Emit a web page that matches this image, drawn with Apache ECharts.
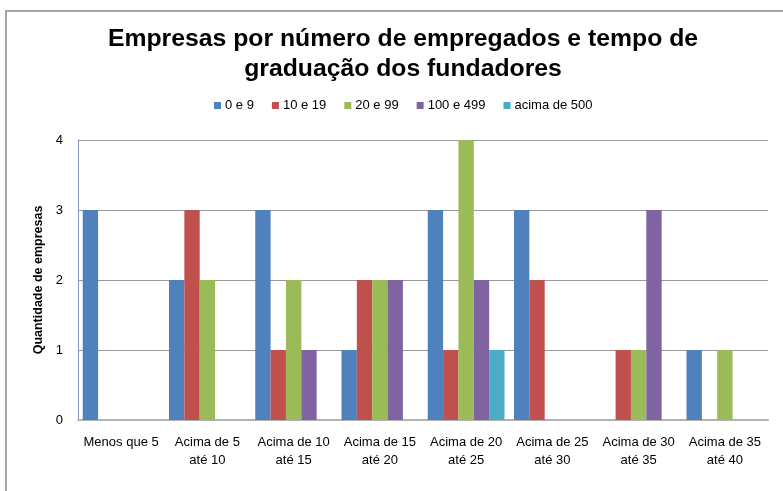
<!DOCTYPE html>
<html>
<head>
<meta charset="utf-8">
<script src="https://cdn.jsdelivr.net/npm/echarts@6/dist/echarts.min.js"></script>
<style>
  html, body { margin: 0; padding: 0; background: #fff; }
  #main { width: 783px; height: 491px; }
</style>
</head>
<body>
<div id="main"></div>
<script>
  let categories = ['Menos que 5', 'Acima de 5\naté 10', 'Acima de 10\naté 15', 'Acima de 15\naté 20',
    'Acima de 20\naté 25', 'Acima de 25\naté 30', 'Acima de 30\naté 35', 'Acima de 35\naté 40'];
  let seriesNames = ['0 e 9', '10 e 19', '20 e 99', '100 e 499', 'acima de 500'];
  let s0a9 = [3, 2, 3, 1, 3, 3, 0, 1];
  let s10a19 = [0, 3, 1, 2, 1, 2, 1, 0];
  let s20a99 = [0, 2, 2, 2, 4, 0, 1, 1];
  let s100a499 = [0, 0, 1, 2, 2, 0, 3, 0];
  let sAcima500 = [0, 0, 0, 0, 1, 0, 0, 0];
  let colors = ['#4F81BD', '#C0504D', '#9BBB59', '#8064A2', '#4BACC6'];

  let myChart = echarts.init(document.getElementById('main'));
  let allData = [s0a9, s10a19, s20a99, s100a499, sAcima500];

  let series = allData.map(function (d, i) {
    return {
      name: seriesNames[i],
      type: 'bar',
      data: d.map(function (v) { return v === 0 ? null : v; }),
      barGap: '0%',
      barCategoryGap: '11%',
      itemStyle: { color: colors[i] }
    };
  });

  let option = {
    backgroundColor: '#fff',
    textStyle: { fontFamily: 'Liberation Sans, Arial, sans-serif' },
    color: colors,
    title: {
      text: 'Empresas por número de empregados e tempo de\ngraduação dos fundadores',
      left: 398,
      textAlign: 'center',
      top: 19,
      textStyle: { fontSize: 24.75, fontWeight: 'bold', color: '#000', lineHeight: 30 }
    },
    legend: {
      top: 94,
      left: 209,
      itemWidth: 7,
      itemHeight: 7,
      itemGap: 18,
      icon: 'rect',
      textStyle: { fontSize: 13, color: '#000', padding: [0, 0, 0, -1] },
      data: seriesNames
    },
    graphic: [{
      type: 'rect',
      shape: { x: 6, y: 11, width: 820, height: 520 },
      style: { fill: 'none', stroke: '#a6a6a6', lineWidth: 2 },
      silent: true
    }],
    grid: { left: 78, right: 15, top: 140, bottom: 71 },
    xAxis: {
      type: 'category',
      data: categories,
      axisTick: { show: false },
      axisLine: { lineStyle: { color: '#b3b3b3', width: 2 } },
      axisLabel: { interval: 0, color: '#000', fontSize: 13, margin: 13, lineHeight: 18 }
    },
    yAxis: {
      type: 'value',
      min: 0,
      max: 4,
      interval: 1,
      name: 'Quantidade de empresas',
      nameLocation: 'middle',
      nameGap: 32,
      nameRotate: 90,
      nameTextStyle: { fontSize: 12.5, fontWeight: 'bold', color: '#000' },
      axisLine: { show: true, lineStyle: { color: '#7f9bc4', width: 1 } },
      axisTick: { show: false },
      axisLabel: { color: '#000', fontSize: 13, margin: 15 },
      splitLine: { lineStyle: { color: '#999', width: 1 } }
    },
    series: series
  };

  myChart.setOption(option);
</script>
</body>
</html>
